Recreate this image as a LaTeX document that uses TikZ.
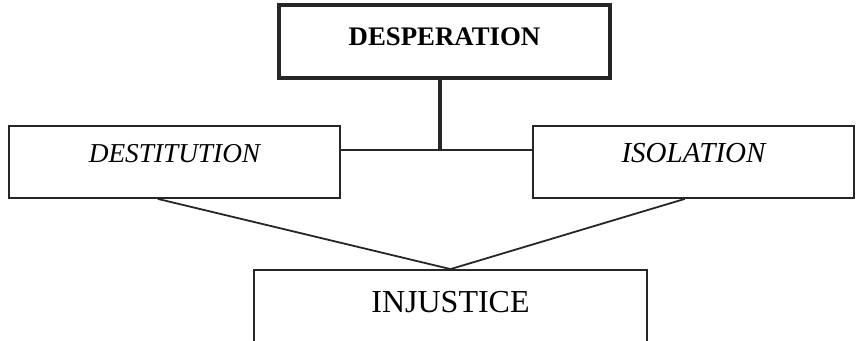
\documentclass[tikz,border=0pt]{standalone}
\usepackage{fontspec}
\setmainfont{Liberation Serif}
\usetikzlibrary{calc}

\begin{document}
\begin{tikzpicture}[x=1pt, y=-1pt, line join=miter,
  box/.style={draw=black!85, line width=1.8pt, fill=white, inner sep=0pt, anchor=center},
  link/.style={draw=black!85, line width=1.8pt}]
  \useasboundingbox (0,0) rectangle (856,340);
  \node[box, line width=3.8pt, minimum width=331pt, text height=40pt, text depth=33pt, font=\fontsize{26.8}{30}\selectfont\bfseries] (desp) at (444.5,41.5) {DESPERATION};
  \node[box, minimum width=331pt, text height=36pt, text depth=36pt, font=\fontsize{27.3}{30}\selectfont\itshape] (dest) at (174.5,162) {DESTITUTION};
  \node[box, minimum width=321pt, text height=36pt, text depth=36pt, font=\fontsize{29}{30}\selectfont\itshape] (iso) at (693.5,162) {ISOLATION};
  \node[box, minimum width=393pt, text height=42pt, text depth=58pt, font=\fontsize{32}{36}\selectfont] (inj) at (450.5,320) {INJUSTICE};
  \coordinate (hub) at (440,150);
  \draw[link, line width=3.8pt] (desp.south -| hub) -- (hub); % stem from the top box
  \draw[link] (dest.east |- hub) -- (iso.west |- hub);
  \draw[link] ($(dest.south west)!0.45!(dest.south east)$) -- (inj.north);
  \draw[link] ($(iso.south west)!0.473!(iso.south east)$) -- (inj.north);
\end{tikzpicture}
\end{document}
